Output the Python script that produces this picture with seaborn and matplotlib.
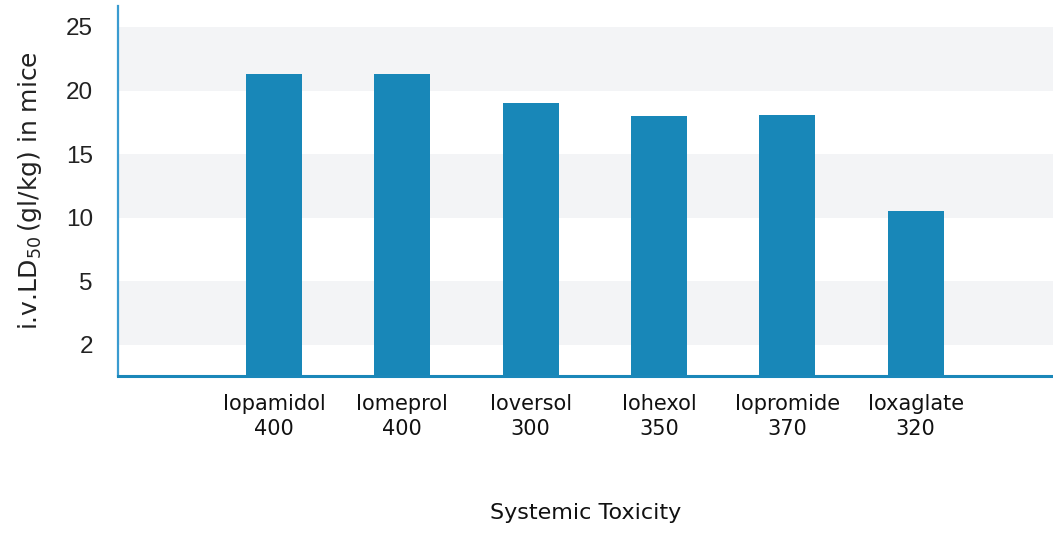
import matplotlib
matplotlib.use("Agg")
import matplotlib.pyplot as plt
import pandas as pd
import seaborn as sns

# values
agents = ["Iopamidol", "Iomeprol", "Ioversol", "Iohexol", "Iopromide", "Ioxaglate"]
concentrations = ["400", "400", "300", "350", "370", "320"]
ld50 = [21.3, 21.3, 19.0, 18.0, 18.1, 10.5]
ytick_pos = [0, 5, 10, 15, 20, 25]
ytick_labels = ["2", "5", "10", "15", "20", "25"]
band_ranges = [(0, 5), (10, 15), (20, 25)]

BAR_COLOR = "#1887b8"
AXIS_COLOR = "#1a87b9"
Y_MIN, Y_MAX = -2.44, 26.65

sns.set_style("white")
plt.rcParams["font.family"] = ["DejaVu Sans"]

df = pd.DataFrame({
    "label": [f"{a}\n{c}" for a, c in zip(agents, concentrations)],
    "ld50": ld50,
})

fig = plt.figure(figsize=(10.53, 5.33), dpi=100)
ax = fig.add_axes([118 / 1053, 1 - 376 / 533, 1 - 118 / 1053, (376 - 6) / 533])

sns.barplot(data=df, x="label", y="ld50", color=BAR_COLOR, width=0.436,
            saturation=1, linewidth=0, ax=ax, zorder=2)

# bars in the original rise from the axis floor, not from zero
for bar in ax.containers[0]:
    top = bar.get_height()
    bar.set_y(Y_MIN)
    bar.set_height(top - Y_MIN)

for lo, hi in band_ranges:
    ax.axhspan(lo, hi, color="#f3f4f6", zorder=0, lw=0)

ax.set_xlim(-1.215, 6.07)
ax.set_ylim(Y_MIN, Y_MAX)
ax.set_yticks(ytick_pos)
ax.set_yticklabels(ytick_labels, fontsize=17.5, family="Liberation Sans", color="#222222")
ax.tick_params(axis="both", length=0)
ax.tick_params(axis="y", pad=18)
ax.tick_params(axis="x", pad=13)
for t in ax.get_xticklabels():
    t.set_fontsize(15)
    t.set_linespacing(1.3)
    t.set_color("#111111")

ax.set_xlabel("Systemic Toxicity", fontsize=16, color="#111111", labelpad=46)
ax.set_ylabel(r"i.v.LD$_{50}\,$(gl/kg) in mice", fontsize=18, color="#222222", labelpad=16)

for side in ["top", "right"]:
    ax.spines[side].set_visible(False)
ax.spines["bottom"].set_color(AXIS_COLOR)
ax.spines["bottom"].set_linewidth(2.2)
ax.spines["left"].set_color("#3a9bd0")
ax.spines["left"].set_linewidth(1.6)
ax.set_facecolor("white")

fig.savefig("out.png", dpi=100)
